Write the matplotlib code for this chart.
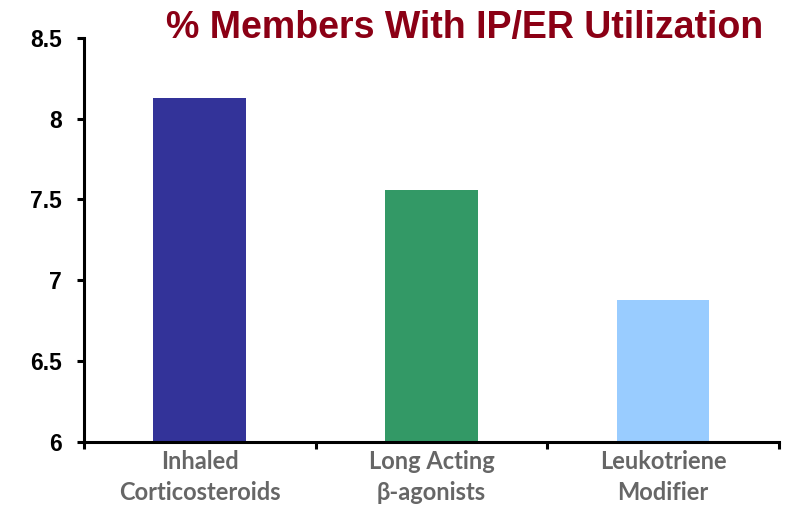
import matplotlib
matplotlib.use("Agg")
import matplotlib.pyplot as plt
import numpy as np

categories = ["Inhaled\nCorticosteroids", "Long Acting\n\u03b2-agonists", "Leukotriene\nModifier"]
values = [8.13, 7.56, 6.88]
colors = ["#333399", "#339966", "#99CCFF"]
yticks = [6, 6.5, 7, 7.5, 8, 8.5]
ytick_labels = ["6", "6.5", "7", "7.5", "8", "8.5"]
title = "% Members With IP/ER Utilization"

fig = plt.figure(figsize=(7.87, 5.07), dpi=100)
ax = fig.add_axes([0.1067, 0.1288, 0.8831, 0.7962])

x = np.arange(len(categories))
ax.bar(x, np.array(values) - 6, bottom=6, width=0.4, color=colors, zorder=2)

ax.set_xlim(-0.5, len(categories) - 0.5)
ax.set_ylim(6, 8.5)

for s in ["top", "right"]:
    ax.spines[s].set_visible(False)
for s in ["left", "bottom"]:
    ax.spines[s].set_linewidth(2.2)
    ax.spines[s].set_color("black")

ax.set_yticks(yticks)
ax.set_yticklabels(ytick_labels, fontfamily="Liberation Sans", fontweight="bold", fontsize=16.5)
ax.tick_params(axis="y", direction="out", length=5, width=2.2, pad=11)

# category boundaries carry the x ticks, labels sit at centers
ax.set_xticks(np.arange(len(categories) + 1) - 0.5)
ax.set_xticklabels([])
ax.tick_params(axis="x", direction="out", length=5, width=2.2)
ax.set_xticks(x, minor=True)
ax.set_xticklabels(categories, minor=True, fontfamily="Lato", fontweight="bold",
                   fontsize=17, color="#666666", linespacing=1.4)
ax.tick_params(axis="x", which="minor", length=0, pad=6)

fig.text(0.591, 0.944, title, ha="center", va="center", fontfamily="Liberation Sans",
         fontweight="bold", fontsize=27, color="#8B0015")

fig.savefig("out.png", dpi=100)
